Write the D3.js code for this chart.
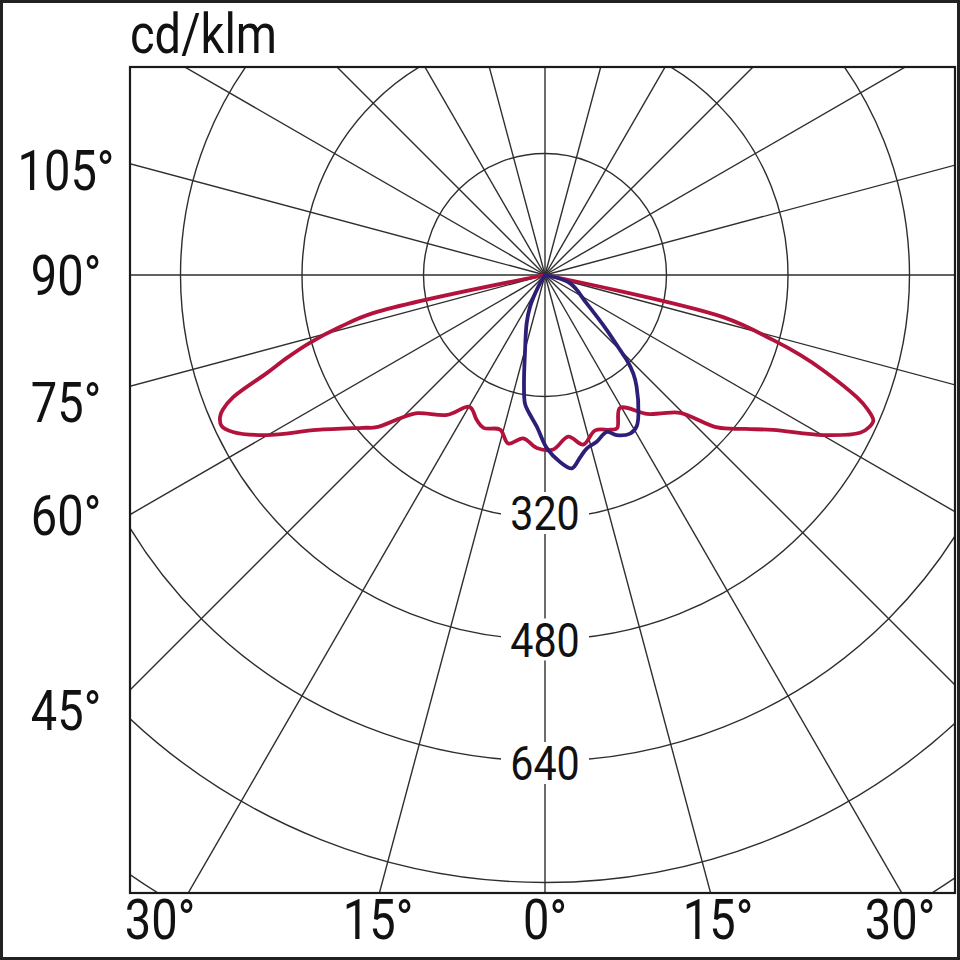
<!DOCTYPE html>
<html><head><meta charset="utf-8">
<script src="https://cdn.jsdelivr.net/npm/d3@7"></script>
<style>html,body{margin:0;padding:0;background:#fff} svg{display:block}</style>
</head><body><svg id="c" width="960" height="960"></svg>
<script>
// ---- data (angles in degrees from nadir, intensities in cd/klm) ----
const redAngles = [-90,-80,-77.5,-75.8,-73.9,-72.2,-70.6,-68.6,-67.3,-66.4,-65,-63.3,-60.1,-55.8,-50,-47.9,-45.4,-42.8,-35,-29.7,-25.2,-21.9,-16.2,-12.3,-7.6,-2.7,2.7,8.2,12.7,17.9,22.8,25.2,29.4,36.3,40,44.4,48.5,52.5,55.8,60.1,63.4,65,66.1,67.4,68.6,71.1,72.6,74.1,76.7,80,90];
const redValues = [0,0,232,278,323,357,388,441,460,467,470,460,423,363,313,299,269,248,225,200,211,217,212,227,217,228,230,215,229,215,221,223,201,227,238,254,303,333,363,423,464,472,473,460,441,387,352,312,241,0,0];
const blueAngles = [-90,-40,-29.8,-25.3,-20.8,-14.9,-11,-8.9,-7,-3.1,0.6,4.6,7.9,10.8,13.5,17.2,21.5,24.1,28.2,31.2,34,39.4,41.9,43.9,45,48.3,55.8,71.6,80,90];
const blueValues = [0,0,18,46,68,102,145,171,181,200,228,247,257,245,235,230,222,231,237,233,220,190,174,155,140,109,66,35,0,0];
const ringValues = [160,320,480,640,800,960];
const ringLabels = [320,480,640];
const rayAngles = d3.range(0,360,15);
const leftTickLabels = ["105°","90°","75°","60°","45°"];
const bottomTickLabels = ["30°","15°","0°","15°","30°"];
const unitLabel = "cd/klm";

// ---- layout ----
const svg = d3.select("#c");
const frame = {x0:130, y0:67, x1:955, y1:893};
const cx = 545, cy = 275;
const r = d3.scaleLinear().domain([0,800]).range([0,607.5]);
const gridColor = "#2e2e2e";
const font = "Roboto, 'Noto Sans', sans-serif";
const sx = 0.84;
const ringLabelShift = [-5, 0, 2];

// outer border
svg.append("rect").attr("x",1.5).attr("y",1.5).attr("width",957).attr("height",957)
  .attr("fill","#fff").attr("stroke","#222").attr("stroke-width",3);

svg.append("defs").append("clipPath").attr("id","clip")
  .append("rect").attr("x",frame.x0).attr("y",frame.y0)
  .attr("width",frame.x1-frame.x0).attr("height",frame.y1-frame.y0);

const plot = svg.append("g").attr("clip-path","url(#clip)");
const g = plot.append("g").attr("transform",`translate(${cx},${cy})`);

// rings
g.selectAll("circle.ring").data(ringValues).join("circle")
  .attr("class","ring").attr("r",d=>r(d)).attr("fill","none")
  .attr("stroke",gridColor).attr("stroke-width",1.4);

// rays
g.selectAll("line.ray").data(rayAngles).join("line")
  .attr("class","ray")
  .attr("x1",0).attr("y1",0)
  .attr("x2",d=>1200*Math.sin(d*Math.PI/180))
  .attr("y2",d=>1200*Math.cos(d*Math.PI/180))
  .attr("stroke",gridColor).attr("stroke-width",1.4);

// ring labels with white background
const rl = g.selectAll("g.rlab").data(ringLabels).join("g")
  .attr("class","rlab").attr("transform",(d,i)=>`translate(0,${r(d)+ringLabelShift[i]})`);
rl.append("rect").attr("x",-44).attr("y",-21).attr("width",88).attr("height",42).attr("fill","#fff");
rl.append("text").text(d=>d).attr("text-anchor","middle").attr("dy","0.355em")
  .attr("transform",`scale(0.86,1)`)
  .attr("font-family",font).attr("font-size",48).attr("fill","#111");

// curves
const radial = (angles, values) => d3.lineRadial()
  .angle(i => Math.PI - angles[i]*Math.PI/180)
  .radius(i => r(values[i]))
  .curve(d3.curveCatmullRom.alpha(0.5));

g.append("path").attr("d", radial(redAngles,redValues)(d3.range(redAngles.length)))
  .attr("fill","none").attr("stroke","#b3123c").attr("stroke-width",3.8)
  .attr("stroke-linejoin","round").attr("stroke-linecap","round");
g.append("path").attr("d", radial(blueAngles,blueValues)(d3.range(blueAngles.length)))
  .attr("fill","none").attr("stroke","#2d1f78").attr("stroke-width",3.8)
  .attr("stroke-linejoin","round").attr("stroke-linecap","round");

// frame
svg.append("rect").attr("x",frame.x0).attr("y",frame.y0)
  .attr("width",frame.x1-frame.x0).attr("height",frame.y1-frame.y0)
  .attr("fill","none").attr("stroke","#1a1a1a").attr("stroke-width",2.2);

// unit label
svg.append("text").text(unitLabel)
  .attr("transform",`translate(${frame.x0},53) scale(${sx},1)`)
  .attr("font-family",font).attr("font-size",56).attr("fill","#111");

// left angle labels
const leftY = [170,275,402,515,710];
svg.selectAll("text.lt").data(leftTickLabels).join("text")
  .attr("class","lt").text(d=>d)
  .attr("transform",(d,i)=>`translate(66,${leftY[i]}) scale(${sx},1)`)
  .attr("text-anchor","middle").attr("dy","0.355em")
  .attr("font-family",font).attr("font-size",56).attr("fill","#111");

// bottom angle labels
const bottomX = [160,378,545,718,900];
svg.selectAll("text.bt").data(bottomTickLabels).join("text")
  .attr("class","bt").text(d=>d)
  .attr("transform",(d,i)=>`translate(${bottomX[i]},919) scale(${sx},1)`)
  .attr("text-anchor","middle").attr("dy","0.355em")
  .attr("font-family",font).attr("font-size",56).attr("fill","#111");
</script>
</body></html>
